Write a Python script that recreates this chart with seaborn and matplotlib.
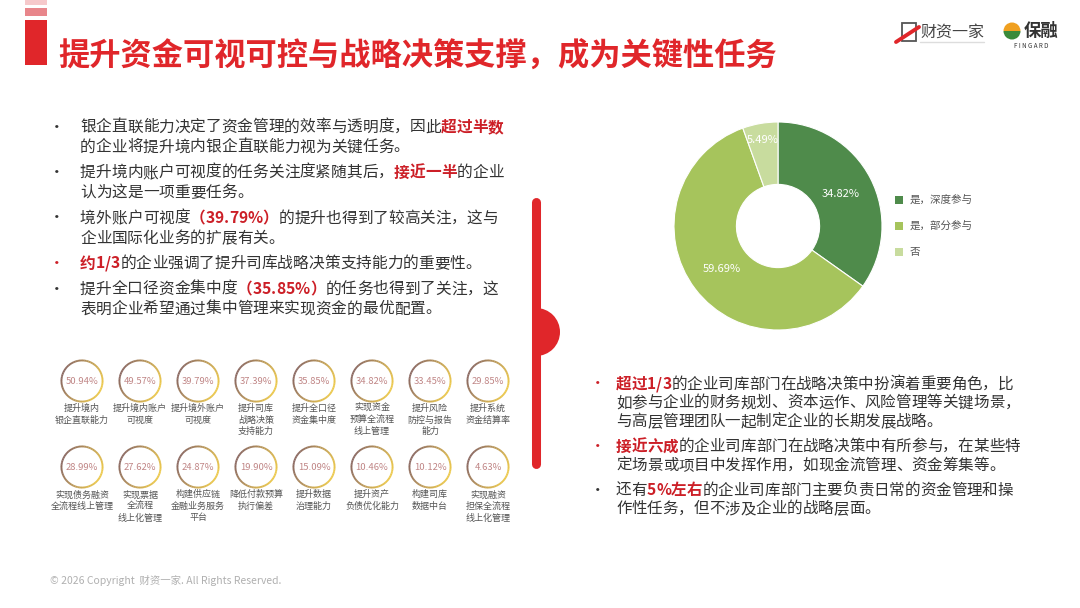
import re
import numpy as np
import matplotlib
matplotlib.use("Agg")
import matplotlib.pyplot as plt
from matplotlib.patches import Rectangle, Wedge
from matplotlib.font_manager import FontProperties, findfont, get_font
import seaborn as sns

# ---- data ----
title = "提升资金可视可控与战略决策支撑，成为关键性任务"

task_names = [
    "提升境内\n银企直联能力", "提升境内账户\n可视度", "提升境外账户\n可视度", "提升司库\n战略决策\n支持能力",
    "提升全口径\n资金集中度", "实现资金\n预算全流程\n线上管理", "提升风险\n防控与报告\n能力", "提升系统\n资金结算率",
    "实现债务融资\n全流程线上管理", "实现票据\n全流程\n线上化管理", "构建供应链\n金融业务服务\n平台", "降低付款预算\n执行偏差",
    "提升数据\n治理能力", "提升资产\n负债优化能力", "构建司库\n数据中台", "实现融资\n担保全流程\n线上化管理",
]
task_values = [50.94, 49.57, 39.79, 37.39, 35.85, 34.82, 33.45, 29.85,
               28.99, 27.62, 24.87, 19.90, 15.09, 10.46, 10.12, 4.63]

pie_labels = ["是，深度参与", "是，部分参与", "否"]
pie_values = [34.82, 59.69, 5.49]
pie_colors = ["#4f8b4b", "#a6c45c", "#c8dc9e"]

left_bullets = [
    ["银企直联能力决定了资金管理的效率与透明度，因此**超过半数**", "的企业将提升境内银企直联能力视为关键任务。"],
    ["提升境内账户可视度的任务关注度紧随其后，**接近一半**的企业", "认为这是一项重要任务。"],
    ["境外账户可视度**（39.79%）**的提升也得到了较高关注，这与", "企业国际化业务的扩展有关。"],
    ["**约1/3**的企业强调了提升司库战略决策支持能力的重要性。"],
    ["提升全口径资金集中度**（35.85%）**的任务也得到了关注，这", "表明企业希望通过集中管理来实现资金的最优配置。"],
]
left_dot_red = [False, False, False, True, False]

right_bullets = [
    ["**超过1/3**的企业司库部门在战略决策中扮演着重要角色，比", "如参与企业的财务规划、资本运作、风险管理等关键场景，",
     "与高层管理团队一起制定企业的长期发展战略。"],
    ["**接近六成**的企业司库部门在战略决策中有所参与，在某些特", "定场景或项目中发挥作用，如现金流管理、资金筹集等。"],
    ["还有**5%左右**的企业司库部门主要负责日常的资金管理和操", "作性任务，但不涉及企业的战略层面。"],
]
right_dot_red = [True, True, False]

footer = "© 2026 Copyright  财资一家. All Rights Reserved."

RED = "#e0262a"
HL = "#cc1f27"
TXT = "#333333"

sns.set_theme(style="white")
plt.rcParams["font.family"] = ["Noto Sans CJK SC", "DejaVu Sans"]

fig = plt.figure(figsize=(10.8, 6.08), dpi=100)
fig.patch.set_facecolor("white")
ax = fig.add_axes([0, 0, 1, 1])
ax.set_xlim(0, 1080)
ax.set_ylim(608, 0)
ax.axis("off")

# header bars
ax.add_patch(Rectangle((25, 0), 22, 5, color="#f6c9cb", lw=0))
ax.add_patch(Rectangle((25, 8), 22, 8, color="#e8868b", lw=0))
ax.add_patch(Rectangle((25, 20), 22, 45, color=RED, lw=0))
ax.text(58, 57, title, fontsize=22.5, fontweight="bold", color=RED, va="center", ha="left")

# logos
ax.add_patch(Rectangle((902, 23), 14, 18, fill=False, ec="#555", lw=1.3))
ax.plot([896, 919], [42, 27], color=RED, lw=2.8, solid_capstyle="round")
ax.text(920, 32, "财资一家", fontsize=11.5, color="#444", va="center", ha="left")
ax.plot([920, 984], [42, 42], color="#ddd", lw=1)
ax.add_patch(Wedge((1012, 31), 8.5, 180, 360, color="#f0a020", lw=0))
ax.add_patch(Wedge((1012, 31), 8.5, 0, 180, color="#3a8a3a", lw=0))
ax.text(1024, 31, "保融", fontsize=12.5, fontweight="bold", color="#333", va="center", ha="left")
ax.text(1031, 46, "F I N G A R D", fontsize=4.5, color="#333", va="center", ha="center")

_fonts = {}


def advance(c, size, weight):
    key = (size, weight)
    if key not in _fonts:
        f = get_font(findfont(FontProperties(family="Noto Sans CJK SC", weight=weight)))
        _fonts[key] = f
    f = _fonts[key]
    f.set_size(size, 100)
    return f.load_char(ord(c)).linearHoriAdvance / 65536


def rich_line(x, y, line, size):
    parts = re.split(r"(\*\*.*?\*\*)", line)
    for p in parts:
        if not p:
            continue
        bold = p.startswith("**")
        weight = "bold" if bold else "normal"
        for c in p.strip("*"):
            ax.text(x, y, c, fontsize=size, va="center", ha="left",
                    color=HL if bold else TXT, fontweight=weight)
            x += advance(c, size, weight)


def bullets(items, reds, x_dot, x_txt, y0, line_h, gap, size):
    y = y0
    for item, red in zip(items, reds):
        ax.text(x_dot, y, "•", fontsize=size, va="center", ha="center", color=HL if red else TXT)
        for line in item:
            rich_line(x_txt, y, line, size)
            y += line_h
        y += gap


bullets(left_bullets, left_dot_red, 57, 80, 127, 20, 5.5, 11.3)
bullets(right_bullets, right_dot_red, 598, 616, 384, 18.8, 6, 11.2)

# red divider
ax.plot([536, 536], [202, 464], color=RED, lw=6.5, solid_capstyle="round")
ax.add_patch(Wedge((536, 332), 24, -90, 90, color=RED, lw=0))

# task rings
brown = np.array(matplotlib.colors.to_rgb("#8c6a62"))
gold = np.array(matplotlib.colors.to_rgb("#ecc94e"))
for i, (name, v) in enumerate(zip(task_names, task_values)):
    cx = 82 + 58 * (i % 8)
    cy = 381 + 86 * (i // 8)
    for a in range(0, 360, 6):
        w = (1 + np.cos(np.radians(a - 20))) / 2
        col = brown * (1 - w) + gold * w
        ax.add_patch(Wedge((cx, cy), 21.5, a, a + 6.5, width=1.9, color=col, lw=0))
    ax.text(cx, cy, f"{v:.2f}%", fontsize=6.8, color="#c08686", va="center", ha="center")
    ax.text(cx, cy + 23, name, fontsize=6.5, color="#555", va="top", ha="center", linespacing=1.35)

# donut
pcx, pcy, pr = 778, 226, 104
pax = fig.add_axes([(pcx - pr) / 1080, 1 - (pcy + pr) / 608, 2 * pr / 1080, 2 * pr / 608])
wedges, _ = pax.pie(pie_values, colors=pie_colors, startangle=90, counterclock=False,
                    wedgeprops=dict(width=0.6, edgecolor="white", linewidth=0.8))
pax.set_xlim(-1, 1)
pax.set_ylim(-1, 1)
pax.set_aspect("equal")
cum = np.cumsum([0] + pie_values[:-1])
for v, c, d in zip(pie_values, cum, [0.68, 0.68, 0.84]):
    ang = np.radians(90 - (c + v / 2) / 100 * 360)
    pax.text(d * np.cos(ang), d * np.sin(ang), f"{v:.2f}%", color="white",
             fontsize=8, ha="center", va="center")

for k, (lab, col) in enumerate(zip(pie_labels, pie_colors)):
    yy = 200 + 26 * k
    ax.add_patch(Rectangle((895, yy - 4), 8, 8, color=col, lw=0))
    ax.text(910, yy, lab, fontsize=7.6, color="#555", va="center", ha="left")

ax.text(50, 580, footer, fontsize=7.5, color="#b0b0b0", va="center", ha="left")

fig.savefig("out.png", dpi=100)
